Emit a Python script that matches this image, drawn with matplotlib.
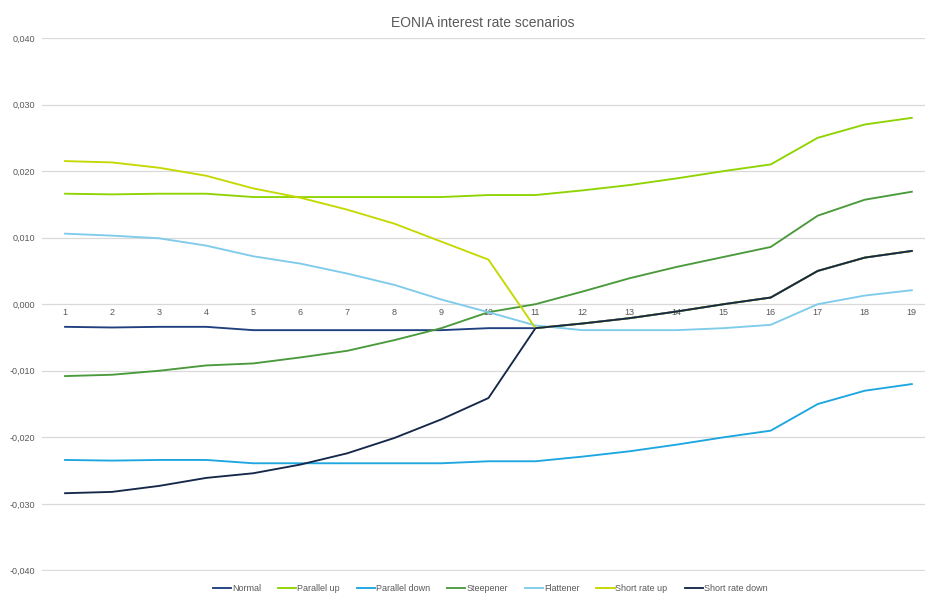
import matplotlib

matplotlib.use("Agg")

import matplotlib.pyplot as plt
from matplotlib.ticker import FuncFormatter

plt.rcParams["font.family"] = ["Liberation Sans", "DejaVu Sans"]

tenors = list(range(1, 20))

normal = [-0.0034, -0.0035, -0.0034, -0.0034, -0.0039, -0.0039, -0.0039, -0.0039, -0.0039, -0.0036,
          -0.0036, -0.0029, -0.0021, -0.0011, 0.0000, 0.0010, 0.0050, 0.0070, 0.0080]
parallel_up = [0.0166, 0.0165, 0.0166, 0.0166, 0.0161, 0.0161, 0.0161, 0.0161, 0.0161, 0.0164,
               0.0164, 0.0171, 0.0179, 0.0189, 0.0200, 0.0210, 0.0250, 0.0270, 0.0280]
parallel_down = [-0.0234, -0.0235, -0.0234, -0.0234, -0.0239, -0.0239, -0.0239, -0.0239, -0.0239, -0.0236,
                 -0.0236, -0.0229, -0.0221, -0.0211, -0.0200, -0.0190, -0.0150, -0.0130, -0.0120]
steepener = [-0.0108, -0.0106, -0.0100, -0.0092, -0.0089, -0.0080, -0.0070, -0.0054, -0.0036, -0.0012,
             0.0000, 0.0019, 0.0039, 0.0056, 0.0071, 0.0086, 0.0133, 0.0157, 0.0169]
flattener = [0.0106, 0.0103, 0.0099, 0.0088, 0.0072, 0.0061, 0.0046, 0.0029, 0.0007, -0.0012,
             -0.0032, -0.0039, -0.0039, -0.0039, -0.0036, -0.0031, 0.0000, 0.0013, 0.0021]
short_up = [0.0215, 0.0213, 0.0205, 0.0193, 0.0174, 0.0160, 0.0142, 0.0121, 0.0094, 0.0067,
            -0.0036, -0.0029, -0.0021, -0.0011, 0.0000, 0.0010, 0.0050, 0.0070, 0.0080]
short_down = [-0.0284, -0.0282, -0.0273, -0.0261, -0.0254, -0.0241, -0.0224, -0.0201, -0.0173, -0.0141,
              -0.0036, -0.0029, -0.0021, -0.0011, 0.0000, 0.0010, 0.0050, 0.0070, 0.0080]

series = [
    ("Normal", normal, "#1f3f7f"),
    ("Parallel up", parallel_up, "#8fd400"),
    ("Parallel down", parallel_down, "#1ea6e0"),
    ("Steepener", steepener, "#4a9a3c"),
    ("Flattener", flattener, "#7fcbea"),
    ("Short rate up", short_up, "#c5d800"),
    ("Short rate down", short_down, "#16284a"),
]

fig = plt.figure(figsize=(9.25, 5.98), dpi=100)
ax = fig.add_axes([0.0454, 0.045, 0.9546, 0.8915])

for name, vals, col in series:
    ax.plot(tenors, vals, color=col, lw=1.35, label=name)

ax.set_xlim(0.51, 19.28)
ax.set_ylim(-0.0401, 0.04)
ax.set_yticks([-0.04, -0.03, -0.02, -0.01, 0.0, 0.01, 0.02, 0.03, 0.04])
ax.yaxis.set_major_formatter(FuncFormatter(lambda v, p: f"{v:.3f}".replace(".", ",")))
ax.grid(axis="y", color="#d9d9d9", lw=0.9)
ax.set_axisbelow(True)
for s in ax.spines.values():
    s.set_visible(False)
ax.spines["bottom"].set_position(("data", 0))
ax.set_xticks(tenors)
ax.tick_params(axis="x", length=0, pad=3, labelsize=6.5, labelcolor="#595959")
ax.tick_params(axis="y", length=0, pad=5, labelsize=6.5, labelcolor="#595959")

fig.text(0.522, 0.962, "EONIA interest rate scenarios", ha="center", va="center",
         fontsize=10, color="#595959")

fig.legend(loc="lower center", bbox_to_anchor=(0.530, -0.005), ncol=7, frameon=False,
           fontsize=6.5, handlelength=2.0, handletextpad=0.1, columnspacing=1.9,
           labelcolor="#595959")

fig.savefig("out.png", dpi=100)
plt.close(fig)
